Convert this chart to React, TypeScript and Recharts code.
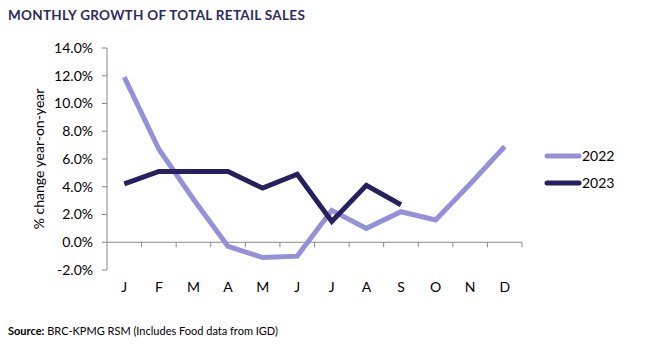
import { Legend, Line, LineChart, ReferenceLine, XAxis, YAxis } from 'recharts';

const months = ['J', 'F', 'M', 'A', 'M', 'J', 'J', 'A', 'S', 'O', 'N', 'D'];
const sales2022 = [11.9, 6.7, 3.1, -0.3, -1.1, -1.0, 2.3, 1.0, 2.2, 1.6, 4.2, 6.9];
const sales2023 = [4.2, 5.1, 5.1, 5.1, 3.9, 4.9, 1.5, 4.1, 2.7];
const yTicks = [-2, 0, 2, 4, 6, 8, 10, 12, 14];

const rows = months.map((m, i) => ({
  x: i + 0.5,
  month: m,
  y2022: sales2022[i],
  y2023: i < sales2023.length ? sales2023[i] : null,
}));
const monthTicks = rows.map((r) => r.x);
const boundaries = months.map((_, i) => i + 1);

const FONT = 'Lato, "Open Sans", sans-serif';
const C2022 = '#9591d9';
const C2023 = '#25215e';

function LegendBox({ payload }: any) {
  return (
    <div style={{ fontFamily: FONT, fontSize: 14, color: '#000' }}>
      {(payload || []).map((p: any) => (
        <div key={p.value} style={{ display: 'flex', alignItems: 'center', height: 27 }}>
          <svg width={38} height={8}>
            <line x1={3} y1={4} x2={35} y2={4} stroke={p.color} strokeWidth={5} strokeLinecap="round" />
          </svg>
          <span>{p.value}</span>
        </div>
      ))}
    </div>
  );
}

export default function App() {
  return (
    <div style={{ position: 'absolute', left: 0, top: 0, width: 649, height: 347, background: '#fff' }}>
      <div style={{ position: 'absolute', left: 8, top: 7, fontFamily: FONT, fontWeight: 700, fontSize: 13.5, color: '#2d2a63', letterSpacing: 0.3 }}>
        MONTHLY GROWTH OF TOTAL RETAIL SALES
      </div>
      <LineChart width={649} height={347} data={rows} margin={{ top: 48, right: 127, bottom: 47, left: 0 }}>
        <XAxis
          dataKey="x"
          type="number"
          domain={[0, 12]}
          ticks={monthTicks}
          tickFormatter={(v: number) => months[Math.floor(v)]}
          axisLine={false}
          tickLine={false}
          tickSize={0}
          tickMargin={12}
          height={30}
          tick={{ fontSize: 14, fill: '#000', fontFamily: FONT }}
          interval={0}
        />
        <YAxis
          domain={[-2, 14]}
          ticks={yTicks}
          width={107}
          stroke="#888"
          tickSize={5}
          tickMargin={9}
          tickFormatter={(v: number) => v.toFixed(1) + '%'}
          tick={{ fontSize: 14, fill: '#000', fontFamily: FONT }}
          label={{ value: '% change year-on-year', angle: -90, position: 'insideLeft', dx: 34, dy: 0, style: { fontSize: 14, fill: '#000', fontFamily: FONT, textAnchor: 'middle' } }}
        />
        <ReferenceLine y={0} stroke="#888" strokeWidth={1} />
        {boundaries.map((b) => (
          <ReferenceLine key={b} segment={[{ x: b, y: 0 }, { x: b, y: -0.36 }]} stroke="#888" strokeWidth={1} />
        ))}
        <Legend
          layout="vertical"
          align="center"
          verticalAlign="middle"
          content={<LegendBox />}
          wrapperStyle={{ left: 544, top: 142, width: 100 }}
        />
        <Line dataKey="y2022" name="2022" stroke={C2022} strokeWidth={5} dot={false} isAnimationActive={false} />
        <Line dataKey="y2023" name="2023" stroke={C2023} strokeWidth={5} dot={false} isAnimationActive={false} />
      </LineChart>
      <div style={{ position: 'absolute', left: 8, top: 324, fontFamily: FONT, fontSize: 11, color: '#000' }}>
        <b>Source:</b> BRC-KPMG RSM (Includes Food data from IGD)
      </div>
    </div>
  );
}
